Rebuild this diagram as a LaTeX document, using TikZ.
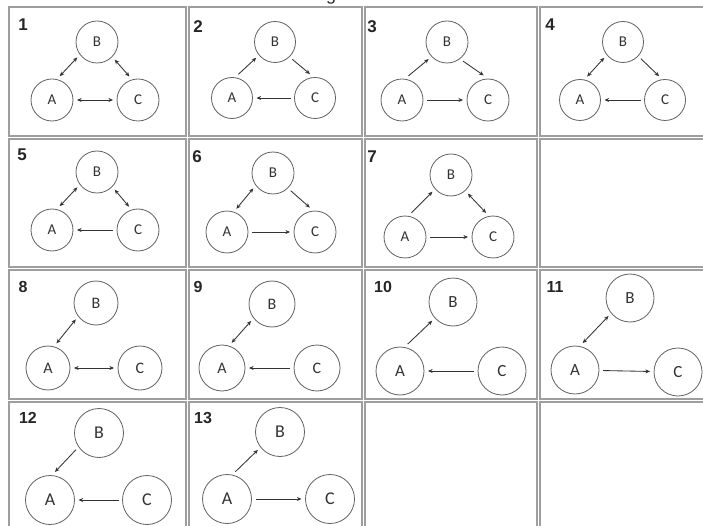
\documentclass[tikz,border=0pt]{standalone}
\usepackage{fontspec}
\setmainfont{Carlito}
\newfontfamily\numfont{Liberation Sans}
\usetikzlibrary{arrows.meta}
\begin{document}
\begin{tikzpicture}[x=1pt,y=-1pt,
  cellbox/.style={draw=black!38, line width=1.3pt},
  vert/.style={circle, draw=black!62, line width=0.8pt, inner sep=0pt, outer sep=4pt, text=black!80},
  num/.style={font=\numfont\bfseries\fontsize{17}{17}\selectfont, text=black!85},
  numsm/.style={font=\numfont\bfseries\fontsize{16}{16}\selectfont, text=black!85},
  link/.style={draw=black!80, line width=0.85pt},
  one/.style={link, -{Stealth[length=4.6pt,width=4pt]}},
  two/.style={link, {Stealth[length=4.6pt,width=4pt]}-{Stealth[length=4.6pt,width=4pt]}},
]
\useasboundingbox (0,0) rectangle (703,526);
\fill[white] (0,0) rectangle (703,526);

% cut-off caption fragment at the top
\begin{scope}
\clip (0,0) rectangle (703,526);
\node[font=\numfont\fontsize{18}{18}\selectfont, text=black!85, anchor=base, inner sep=0pt] (capg) at (331,0.5) {g};
\end{scope}

% table cells
\foreach \xa/\xb in {9/186,189/362,365/537,540/712}{
  \foreach \ya/\yb in {7/136,139/267,270/399,402/535}{
    \draw[cellbox] (\xa,\ya) rectangle (\xb,\yb);
  }
}

% cell numbers
\node[num] (n1) at (23,25) {1};
\node[num] (n2) at (198,27) {2};
\node[num] (n3) at (372,27) {3};
\node[num] (n4) at (550,25) {4};
\node[num] (n5) at (22,155) {5};
\node[num] (n6) at (197,157) {6};
\node[num] (n7) at (372,157) {7};
\node[numsm] (n8) at (23,287) {8};
\node[numsm] (n9) at (198,287) {9};
\node[numsm] (n10) at (383,287) {10};
\node[numsm] (n11) at (555,287) {11};
\node[numsm] (n12) at (28,418) {12};
\node[numsm] (n13) at (203,418) {13};

% node trios: #1 id, #2 B, #3 A, #4 C, #5 diameter, #6 font size
\newcommand\trio[6]{%
  \node[vert, minimum size=#5pt, font=\fontsize{#6}{#6}\selectfont] (B#1) at (#2) {B};
  \node[vert, minimum size=#5pt, font=\fontsize{#6}{#6}\selectfont] (A#1) at (#3) {A};
  \node[vert, minimum size=#5pt, font=\fontsize{#6}{#6}\selectfont] (C#1) at (#4) {C};
}

\trio{1}{97,42}{52,100}{138,100}{42}{15}
\trio{2}{275,42}{232,98}{315,98}{41}{15}
\trio{3}{447,42}{402,100}{488,100}{42}{15}
\trio{4}{623,42}{580,100}{665,100}{41}{15}
\trio{5}{97,172}{52,230}{138,230}{42}{15}
\trio{6}{273,173}{227,232}{315,232}{42}{15}
\trio{7}{451,175}{405,237}{493,237}{42}{15}
\trio{8}{96,303}{48,368}{140,368}{44}{16}
\trio{9}{272,304}{222,368}{317,368}{46}{16}
\trio{10}{453,302}{400,371}{502,371}{48}{17}
\trio{11}{630,298}{575,370}{678,372}{48}{17}
\trio{12}{99,433}{50,500}{147,500}{49}{18}
\trio{13}{280,432}{227,499}{330,499}{49}{18}

% cell 1
\draw[two] (A1.72) -- (B1.218);
\draw[two] (B1.315) -- (C1.110);
\draw[two] (A1) -- (C1);
% cell 2
\draw[one] (A2.75) -- (B2.220);
\draw[one] (B2.315) -- (C2.102);
\draw[one] (C2) -- (A2);
% cell 3
\draw[one] (A3.75) -- (B3.223);
\draw[one] (B3.310) -- (C3.100);
\draw[one] (A3) -- (C3);
% cell 4
\draw[two] (A4.73) -- (B4.220);
\draw[one] (B4.317) -- (C4.104);
\draw[one] (C4) -- (A4);
% cell 5
\draw[two] (A5.72) -- (B5.218);
\draw[two] (B5.315) -- (C5.111);
\draw[one] (C5) -- (A5);
% cell 6
\draw[two] (A6.68) -- (B6.218);
\draw[one] (B6.315) -- (C6.102);
\draw[one] (A6) -- (C6);
% cell 7
\draw[one] (A7.75) -- (B7.222);
\draw[two] (B7.312) -- (C7.106);
\draw[one] (A7) -- (C7);
% cell 8
\draw[two] (A8.71) -- (B8.219);
\draw[two] (A8) -- (C8);
% cell 9
\draw[two] (A9.69) -- (B9.219);
\draw[one] (C9) -- (A9);
% cell 10
\draw[one] (A10.74) -- (B10.222);
\draw[one] (C10) -- (A10);
% cell 11
\draw[two] (A11.74) -- (B11.220);
\draw[one] (A11) -- (C11);
% cell 12
\draw[one] (B12.216) -- (A12.80);
\draw[one] (C12) -- (A12);
% cell 13
\draw[one] (A13.73) -- (B13.219);
\draw[one] (A13) -- (C13);
\end{tikzpicture}
\end{document}
